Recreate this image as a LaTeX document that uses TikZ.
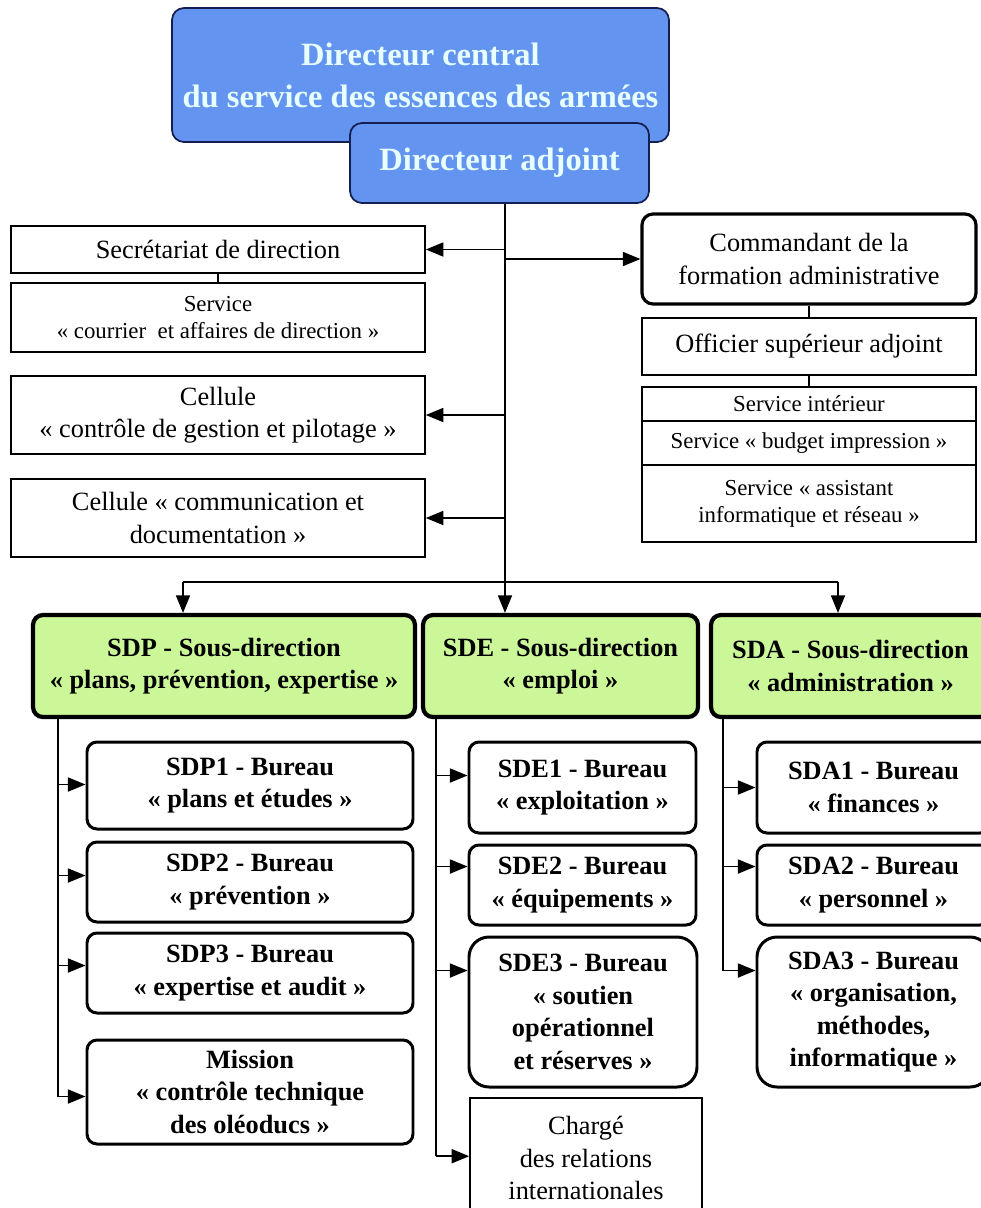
\documentclass[tikz,border=0pt]{standalone}
\usepackage{fontspec}
\setmainfont{Liberation Serif}
\usetikzlibrary{arrows.meta,calc}
\definecolor{bleudir}{RGB}{99,149,240}
\definecolor{bordbleu}{RGB}{20,30,80}
\definecolor{textebleu}{RGB}{232,255,255}
\definecolor{vertsd}{RGB}{204,247,153}

\begin{document}
\begin{tikzpicture}[x=.02cm,y=-.02cm,
	taille/.style 2 args={minimum width=#1*.02cm,minimum height=#2*.02cm,inner sep=0pt},
	dir/.style={draw=bordbleu,line width=1pt,fill=bleudir,rounded corners=.24cm,text=textebleu,align=center,font=\fontsize{18.5}{24}\selectfont\bfseries},
	simple/.style={draw,line width=.9pt,fill=white,align=center,font=\fontsize{15}{18.5}\selectfont},
	petit/.style={simple,font=\fontsize{13}{15.5}\selectfont},
	cmdt/.style={simple,line width=1.8pt,rounded corners=.22cm},
	sousdir/.style={draw,line width=2.4pt,fill=vertsd,rounded corners=.2cm,align=center,font=\fontsize{15}{18.5}\selectfont\bfseries},
	bureau/.style={draw,line width=1.7pt,fill=white,rounded corners=.2cm,align=center,font=\fontsize{15}{18.5}\selectfont\bfseries},
	fleche/.style={line width=.9pt,-{Triangle[length=10pt,width=8pt]}},
	trait/.style={line width=.9pt}
	]
	\useasboundingbox[fill=white] (0,0) rectangle (981,1208);
	% direction
	\node[dir,taille={497}{134}] (dc) at (420.5,75) {Directeur central\\du service des essences des armées};
	\node[dir,taille={299}{80}] (adj) at (499.5,163) {Directeur adjoint};
	% cellules de gauche
	\node[simple,taille={414}{47}] (sec) at (218,249.5) {Secrétariat de direction};
	\node[petit,taille={414}{69}] (cour) at (218,317.5) {Service\\« courrier~ et affaires de direction »};
	\node[simple,taille={414}{78}] (ctrl) at (218,415) {Cellule\\« contrôle de gestion et pilotage »};
	\node[simple,taille={414}{78}] (comm) at (218,518) {Cellule « communication et\\documentation »};
	% formation administrative
	\node[cmdt,taille={334}{90}] (cmd) at (809,259) {Commandant de la\\formation administrative};
	\node[simple,taille={334}{57}] (off) at (809,346.5) {Officier supérieur adjoint};
	\node[petit,taille={334}{34}] (sint) at (809,404) {Service intérieur};
	\node[petit,taille={334}{44}] (sbud) at (809,443) {Service « budget impression »};
	\node[petit,taille={334}{77}] (sass) at (809,503.5) {Service « assistant\\informatique et réseau »};
	% sous-directions
	\node[sousdir,taille={382}{102}] (sdp) at (224,666) {SDP - Sous-direction\\« plans, prévention, expertise »};
	\node[sousdir,taille={275}{102}] (sde) at (560.5,666) {SDE - Sous-direction\\« emploi »};
	\node[sousdir,taille={279}{102}] (sda) at (850.5,666) {SDA - Sous-direction\\« administration »};
	% bureaux
	\node[bureau,taille={326}{87}] (sdp1) at (250,785.5) {SDP1 - Bureau\\« plans et études »};
	\node[bureau,taille={326}{80}] (sdp2) at (250,882) {SDP2 - Bureau\\« prévention »};
	\node[bureau,taille={326}{80}] (sdp3) at (250,973) {SDP3 - Bureau\\« expertise et audit »};
	\node[bureau,taille={326}{104}] (mis) at (250,1092) {Mission\\« contrôle technique\\des oléoducs »};
	\node[bureau,taille={227}{91}] (sde1) at (582.5,787.5) {SDE1 - Bureau\\« exploitation »};
	\node[bureau,taille={227}{80}] (sde2) at (582.5,885) {SDE2 - Bureau\\« équipements »};
	\node[bureau,taille={228}{150},rounded corners=.4cm] (sde3) at (583,1012) {SDE3 - Bureau\\« soutien\\opérationnel\\et réserves »};
	\node[simple,taille={232}{120}] (charge) at (586,1158) {Chargé\\des relations\\internationales};
	\node[bureau,taille={233}{91}] (sda1) at (873.5,787.5) {SDA1 - Bureau\\« finances »};
	\node[bureau,taille={233}{80}] (sda2) at (873.5,885) {SDA2 - Bureau\\« personnel »};
	\node[bureau,taille={233}{150},rounded corners=.4cm] (sda3) at (873.5,1012) {SDA3 - Bureau\\« organisation,\\méthodes,\\informatique »};
	% liaisons
	\coordinate (t) at (505,582);
	\coordinate (bp) at (183,582);
	\coordinate (ba) at (838,582);
	\draw[trait] (adj.south -| t) -- (t);
	\foreach \n in {sec,ctrl,comm} \draw[fleche] (t |- \n.east) -- (\n.east);
	\draw[fleche] (t |- cmd.west) -- (cmd.west);
	\draw[trait] (sec) -- (cour);
	\draw[trait] (cmd) -- (off);
	\draw[trait] (off) -- (sint);
	\draw[trait] (bp) -- (ba);
	\draw[fleche] (bp) -- (bp |- sdp.north);
	\draw[fleche] (t) -- (t |- sde.north);
	\draw[fleche] (ba) -- (ba |- sda.north);
	\coordinate (vp) at (58,717);
	\coordinate (ve) at (436,717);
	\coordinate (va) at (723,717);
	\foreach \n/\d in {sdp1/44,sdp2/35,sdp3/34,mis/58} {
		\coordinate (e\n) at ($(\n.north west)+(0,\d)$);
		\draw[fleche] (vp |- e\n) -- (e\n);
	}
	\foreach \n/\d in {sde1/35,sde2/23,sde3/35,charge/59} {
		\coordinate (e\n) at ($(\n.north west)+(0,\d)$);
		\draw[fleche] (ve |- e\n) -- (e\n);
	}
	\foreach \n/\d in {sda1/47,sda2/23,sda3/35} {
		\coordinate (e\n) at ($(\n.north west)+(0,\d)$);
		\draw[fleche] (va |- e\n) -- (e\n);
	}
	\draw[trait] (vp) -- (vp |- emis);
	\draw[trait] (ve) -- (ve |- echarge);
	\draw[trait] (va) -- (va |- esda3);
\end{tikzpicture}
\end{document}
